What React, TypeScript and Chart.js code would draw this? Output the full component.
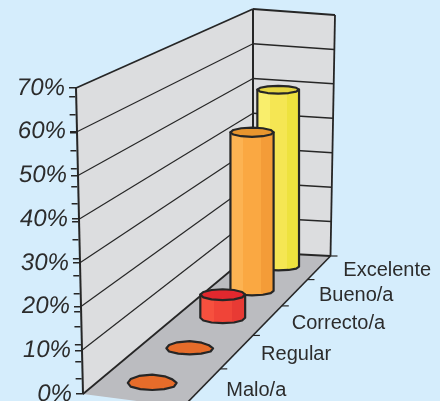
import React, { useEffect, useRef } from "react";
import { Chart, registerables, LinearScale } from "chart.js";

const categories = ["Malo/a", "Regular", "Correcto/a", "Bueno/a", "Excelente"];
const values = [0, 0, 6, 43, 50];
const majorTicks = [0, 10, 20, 30, 40, 50, 60, 70];
const minorTicks = [3.5, 7.5, 11.2, 15.3, 18.8, 22.9, 27, 31, 35.2, 39.4, 43.5, 47.4, 51.5, 55.6, 59.7, 63.8, 68];
const columnShades = [
  ["#E86E2C", "#E66A28", "#E46626", "#E66C2A"],
  ["#E86E2C", "#E66A28", "#E46626", "#E66C2A"],
  ["#F6503E", "#F04438", "#E83A34", "#E2282E"],
  ["#FCB352", "#FAA842", "#F49C38", "#E8952E"],
  ["#F9EE6C", "#F5E653", "#EEE23E", "#E5D540"],
];
const blobShape = [1, 1.03, 0.98, 0.96, 0.98, 1.02, 1, 1.02, 1.08, 1.12, 1.02, 0.95];

const INK = "#262626";
const BG = "#D5EDFC";
const WALL = "#DCDDDF";
const FLOOR = "#BBBCC0";
const FONT = "'Liberation Sans', Arial, sans-serif";

const SLANT = 7 / 306; // front wall edge leans left as it rises
const AXIS_X = 83;
const ZERO_Y = 394;
const TOP_Y = 88;
const CORNER = { x: 253, y0: 252, unit: 243 / 70 };
const RIGHT = { xBottom: 330.5, xTop: 335, y0: 256, unit: 241 / 70 };
const FRONT = { x: 183, y: 407 };
const PERSPECTIVE = 0.74;

const lerp = (a: number, b: number, t: number) => a + (b - a) * t;
const depth = (t: number) => t / (t + (1 - t) * PERSPECTIVE);

class SlantScale extends LinearScale {
  static id = "slantLinear";
  static defaults = LinearScale.defaults;
  _layers() {
    const ctx = (this as any).ctx;
    return (super._layers as any)().map((l: any) => ({
      z: l.z,
      draw: (area: any) => {
        ctx.save();
        ctx.transform(1, 0, SLANT, 1, -ZERO_Y * SLANT, 0);
        l.draw(area);
        ctx.restore();
      },
    }));
  }
}

Chart.register(...registerables, SlantScale as any);

const poly = (ctx: CanvasRenderingContext2D, pts: number[][], close = true) => {
  ctx.beginPath();
  pts.forEach((p, i) => (i ? ctx.lineTo(p[0], p[1]) : ctx.moveTo(p[0], p[1])));
  if (close) ctx.closePath();
};

const scene = {
  id: "scene",
  beforeDraw(chart: any) {
    const { ctx, scales } = chart;
    const y = scales.y;
    const x = scales.x;
    const frontX = (py: number) => AXIS_X + (py - ZERO_Y) * SLANT;
    const p70 = y.getPixelForValue(70);
    ctx.save();
    ctx.lineJoin = "round";
    ctx.fillStyle = WALL;
    poly(ctx, [
      [AXIS_X, ZERO_Y],
      [frontX(p70), p70],
      [CORNER.x, CORNER.y0 - 70 * CORNER.unit],
      [CORNER.x, CORNER.y0],
    ]);
    ctx.fill();
    poly(ctx, [
      [CORNER.x, CORNER.y0 - 70 * CORNER.unit],
      [RIGHT.xTop, RIGHT.y0 - 70 * RIGHT.unit],
      [RIGHT.xBottom, RIGHT.y0],
      [CORNER.x, CORNER.y0],
    ]);
    ctx.fill();
    ctx.fillStyle = FLOOR;
    poly(ctx, [
      [AXIS_X, ZERO_Y],
      [CORNER.x, CORNER.y0],
      [RIGHT.xBottom, RIGHT.y0],
      [FRONT.x, FRONT.y],
    ]);
    ctx.fill();

    ctx.strokeStyle = INK;
    majorTicks.forEach((v) => {
      const py = y.getPixelForValue(v);
      const wide = v === 0 || v === 70;
      const cornerY = CORNER.y0 - v * CORNER.unit;
      ctx.lineWidth = wide ? 1.8 : 1.2;
      poly(ctx, [[frontX(py), py], [CORNER.x, cornerY]], false);
      ctx.stroke();
      ctx.lineWidth = wide ? 1.8 : 1.5;
      const k = v / 70;
      poly(ctx, [[CORNER.x, cornerY], [lerp(RIGHT.xBottom, RIGHT.xTop, k), RIGHT.y0 - v * RIGHT.unit]], false);
      ctx.stroke();
    });
    ctx.lineWidth = 2;
    poly(ctx, [[CORNER.x, CORNER.y0], [CORNER.x, CORNER.y0 - 70 * CORNER.unit]], false);
    ctx.stroke();
    ctx.lineWidth = 1.8;
    poly(ctx, [[RIGHT.xBottom, RIGHT.y0], [RIGHT.xTop, RIGHT.y0 - 70 * RIGHT.unit]], false);
    ctx.stroke();
    ctx.lineWidth = 1.6;
    poly(ctx, [[RIGHT.xBottom, RIGHT.y0], [FRONT.x, FRONT.y]], false);
    ctx.stroke();

    // category ticks and labels along the front floor edge
    const edge = (px: number) => {
      const s = depth((px - x.left) / (x.right - x.left));
      return [lerp(FRONT.x, RIGHT.xBottom, s), lerp(FRONT.y, RIGHT.y0, s)];
    };
    ctx.lineWidth = 1.2;
    categories.forEach((c, i) => {
      const b = edge(x.getPixelForValue(i) + (x.right - x.left) / categories.length / 2);
      poly(ctx, [[b[0], b[1]], [b[0] + 7, b[1]]], false);
      ctx.stroke();
      const m = edge(x.getPixelForValue(i));
      ctx.fillStyle = "#2C2C2C";
      ctx.font = `20px ${FONT}`;
      ctx.textAlign = "left";
      ctx.textBaseline = "middle";
      ctx.fillText(c, m[0] + 24, m[1] + 3);
    });
    ctx.restore();
  },
  afterDatasetsDraw(chart: any) {
    const { ctx, scales } = chart;
    const x = scales.x;
    const y = scales.y;
    const bars = chart.getDatasetMeta(0).data;
    ctx.save();
    ctx.lineJoin = "round";
    ctx.strokeStyle = INK;
    for (let i = bars.length - 1; i >= 0; i--) {
      const s = depth((bars[i].x - x.left) / (x.right - x.left));
      const leftEdge = [lerp(AXIS_X, CORNER.x, s), lerp(ZERO_Y, CORNER.y0, s)];
      const rightEdge = [lerp(FRONT.x, RIGHT.xBottom, s), lerp(FRONT.y, RIGHT.y0, s)];
      const cx = (leftEdge[0] + rightEdge[0]) / 2 - 1.5;
      const cy = (leftEdge[1] + rightEdge[1]) / 2 + 1.5;
      const unit = lerp(4.37, 3.47, s) / ((y.getPixelForValue(0) - y.getPixelForValue(70)) / 70);
      const h = (y.getPixelForValue(0) - bars[i].y) * unit;
      const rx = lerp(50, 41, s) / 2;
      const ry = lerp(16, 7, s) / 2;
      const flat = h < 1;
      const ring = (oy: number) =>
        blobShape.map((f, k) => {
          const a = (k / blobShape.length) * Math.PI * 2;
          const w = flat ? f : 1;
          return [cx + Math.cos(a) * rx * w, oy + Math.sin(a) * ry * w];
        });
      const shades = columnShades[i];
      ctx.lineWidth = 2.2;
      if (!flat) {
        const base = ring(cy);
        const bottom = base.filter((p) => p[1] >= cy - 0.01);
        const g = ctx.createLinearGradient(cx - rx, 0, cx + rx, 0);
        g.addColorStop(0, shades[0]);
        g.addColorStop(0.3, shades[0]);
        g.addColorStop(0.3, shades[1]);
        g.addColorStop(0.7, shades[1]);
        g.addColorStop(0.7, shades[2]);
        g.addColorStop(1, shades[2]);
        ctx.fillStyle = g;
        poly(ctx, [[cx + rx, cy - h], ...bottom, [cx - rx, cy], [cx - rx, cy - h]]);
        ctx.fill();
        ctx.stroke();
      }
      ctx.fillStyle = shades[3];
      poly(ctx, ring(cy - h));
      ctx.fill();
      ctx.stroke();
    }
    ctx.restore();
  },
};

export default function App() {
  const ref = useRef<HTMLCanvasElement>(null);
  useEffect(() => {
    const chart = new Chart(ref.current as HTMLCanvasElement, {
      type: "bar",
      data: {
        labels: categories,
        datasets: [{ data: values, backgroundColor: "transparent", borderWidth: 0 }],
      },
      plugins: [scene as any],
      options: {
        animation: false,
        responsive: false,
        layout: {
          autoPadding: false,
          padding: { left: 0, right: 10, top: TOP_Y, bottom: 401 - ZERO_Y },
        },
        plugins: { legend: { display: false }, tooltip: { enabled: false }, title: { display: false } },
        scales: {
          x: { display: false },
          y: {
            type: "slantLinear" as any,
            min: 0,
            max: 70,
            afterFit: (s: any) => {
              s.width = AXIS_X;
              s.paddingTop = 0;
              s.paddingBottom = 0;
            },
            afterBuildTicks: (s: any) => {
              s.ticks = [...majorTicks, ...minorTicks].sort((a, b) => a - b).map((value) => ({ value }));
            },
            grid: { drawOnChartArea: false, drawTicks: true, tickLength: 7, color: INK, lineWidth: 1.4 },
            border: { display: true, color: INK, width: 2 },
            ticks: {
              autoSkip: false,
              padding: 4,
              color: "#2C2C2C",
              font: { family: FONT, size: 24, style: "italic" },
              callback: (v: any) => (majorTicks.includes(Number(v)) ? `${v}%` : ""),
            },
          } as any,
        },
      },
    });
    return () => chart.destroy();
  }, []);
  return (
    <canvas
      ref={ref}
      width={440}
      height={401}
      style={{ position: "fixed", left: 0, top: 0, width: 440, height: 401, background: BG, display: "block" }}
    />
  );
}
